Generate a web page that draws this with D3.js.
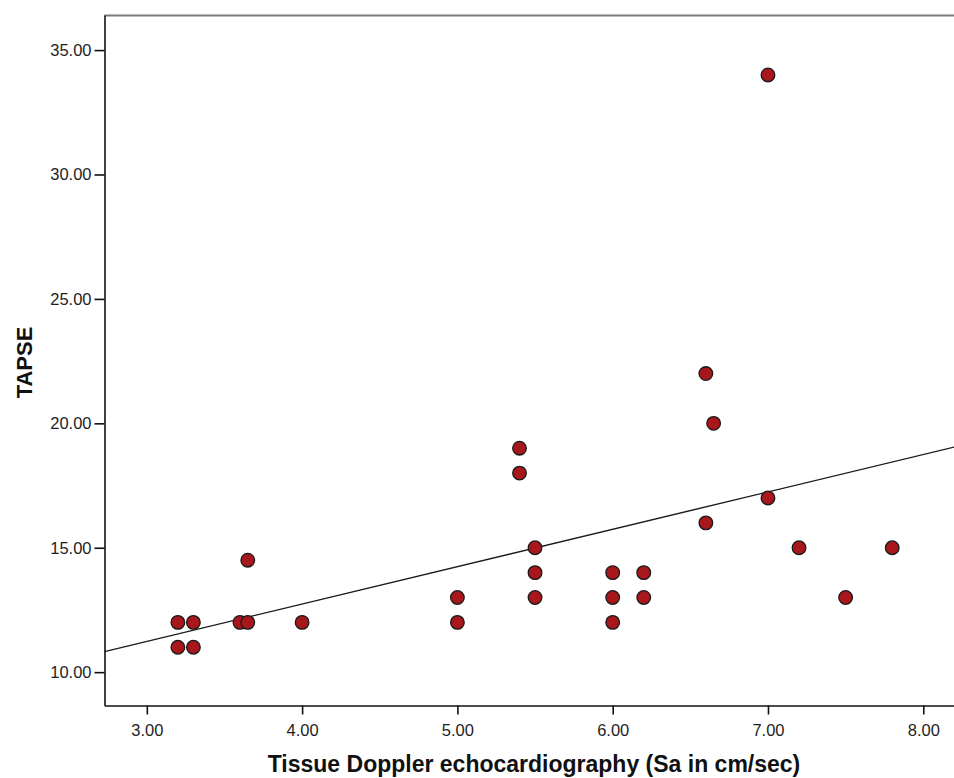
<!DOCTYPE html>
<html>
<head>
<meta charset="utf-8">
<script src="https://cdn.jsdelivr.net/npm/d3@7"></script>
<style>
  body { margin: 0; background: #fff; }
  svg { display: block; }
  .tick text { font-family: "Liberation Sans", Arial, sans-serif; font-size: 16.5px; fill: #1e1e1e; }
</style>
</head>
<body>
<div id="graph"></div>
<script>
// Sa (cm/sec) and TAPSE per patient
var saValues = [3.2, 3.2, 3.3, 3.3, 3.6, 3.65, 3.65, 4.0, 5.0, 5.0,
                5.4, 5.4, 5.5, 5.5, 5.5, 6.0, 6.0, 6.0, 6.2, 6.2,
                6.6, 6.65, 6.6, 7.0, 7.0, 7.2, 7.5, 7.8];
var tapseValues = [12, 11, 12, 11, 12, 12, 14.5, 12, 13, 12,
                   19, 18, 15, 14, 13, 14, 13, 12, 14, 13,
                   22, 20, 16, 34, 17, 15, 13, 15];
// fit line: [intercept, slope]
var fitLine = [6.73, 1.502];
var xTicks = [3, 4, 5, 6, 7, 8];
var yTicks = [10, 15, 20, 25, 30, 35];

var w = 954, h = 778;
var padL = 104.5, padR = 960, padT = 15, padB = 705.5;

var vis = d3.select("#graph").append("svg")
  .attr("width", w).attr("height", h);

var x = d3.scaleLinear().domain([2.7275, 8.2365]).range([padL, padR]);
var y = d3.scaleLinear().domain([8.66, 36.41]).range([padB, padT]);

// top border (grey), no visible right edge
vis.append("line")
  .attr("x1", padL).attr("x2", w).attr("y1", padT + 0.5).attr("y2", padT + 0.5)
  .attr("stroke", "#7a7a7a").attr("stroke-width", 2.2);

var fmt = d3.format(".2f");

vis.append("g")
  .attr("transform", "translate(0," + padB + ")")
  .call(d3.axisBottom(x).tickValues(xTicks).tickFormat(fmt).tickSizeInner(9).tickSizeOuter(0).tickPadding(10))
  .call(function(g) {
    g.select(".domain").attr("stroke", "#111").attr("stroke-width", 1.6);
    g.selectAll(".tick line").attr("stroke", "#111").attr("stroke-width", 1.6);
  });

vis.append("g")
  .attr("transform", "translate(" + padL + ",0)")
  .call(d3.axisLeft(y).tickValues(yTicks).tickFormat(fmt).tickSizeInner(10).tickSizeOuter(0).tickPadding(3))
  .call(function(g) {
    g.select(".domain").attr("stroke", "#111").attr("stroke-width", 1.6);
    g.selectAll(".tick line").attr("stroke", "#111").attr("stroke-width", 1.6);
  });

// fit line across the plot
var x0 = x.domain()[0], x1 = x.domain()[1];
vis.append("line")
  .attr("x1", x(x0)).attr("y1", y(fitLine[0] + fitLine[1] * x0))
  .attr("x2", x(x1)).attr("y2", y(fitLine[0] + fitLine[1] * x1))
  .attr("stroke", "#1a1a1a").attr("stroke-width", 1.4);

// points
var pts = saValues.map(function(v, i) { return {sa: v, tapse: tapseValues[i]}; });
vis.selectAll("circle.pt").data(pts).enter().append("circle")
  .attr("class", "pt")
  .attr("cx", function(d) { return x(d.sa); })
  .attr("cy", function(d) { return y(d.tapse); })
  .attr("r", 6.8)
  .attr("fill", "#a8171c")
  .attr("stroke", "#1a1a1a")
  .attr("stroke-width", 1.3);

// axis titles
vis.append("text")
  .attr("x", 534).attr("y", 772)
  .attr("text-anchor", "middle")
  .style("font-family", "'Liberation Sans', Arial, sans-serif")
  .style("font-weight", "bold")
  .style("font-size", "23px")
  .style("fill", "#111")
  .text("Tissue Doppler echocardiography (Sa in cm/sec)");

vis.append("text")
  .attr("transform", "translate(32,362.5) rotate(-90)")
  .attr("text-anchor", "middle")
  .style("font-family", "'Liberation Sans', Arial, sans-serif")
  .style("font-weight", "bold")
  .style("font-size", "22px")
  .style("fill", "#111")
  .text("TAPSE");
</script>
</body>
</html>
